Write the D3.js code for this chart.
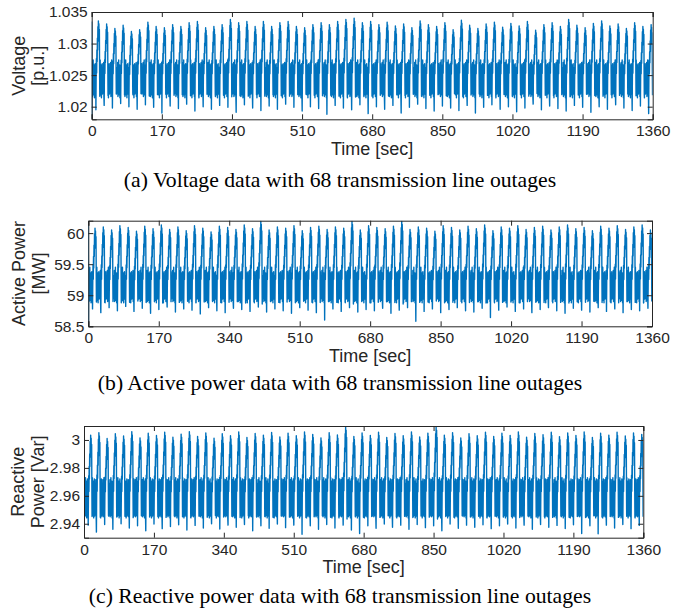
<!DOCTYPE html>
<html>
<head>
<meta charset="utf-8">
<script src="https://cdn.jsdelivr.net/npm/d3@7"></script>
<style>
  body { margin: 0; background: #fff; }
  svg { display: block; }
</style>
</head>
<body>
<div id="app"></div>
<script>
// 68 outages, one every 20 s
const cycleLen = 20;
const xTicks = [0, 170, 340, 510, 680, 850, 1020, 1190, 1360];

// voltage [p.u.]
const voltPeaks = [
  1.0336, 1.0331, 1.0324, 1.0329, 1.0319, 1.0322, 1.0334, 1.0327, 1.0325, 1.0330,
  1.0327, 1.0333, 1.0335, 1.0325, 1.0327, 1.0330, 1.0338, 1.0333, 1.0335, 1.0327,
  1.0335, 1.0327, 1.0333, 1.0335, 1.0327, 1.0325, 1.0330, 1.0333, 1.0330, 1.0335,
  1.0338, 1.0340, 1.0333, 1.0335, 1.0330, 1.0334, 1.0328, 1.0331, 1.0325, 1.0336,
  1.0330, 1.0327, 1.0333, 1.0322, 1.0337, 1.0329, 1.0324, 1.0331, 1.0334, 1.0326,
  1.0332, 1.0328, 1.0335, 1.0321, 1.0330, 1.0333, 1.0327, 1.0338, 1.0329, 1.0325,
  1.0332, 1.0336, 1.0328, 1.0331, 1.0324, 1.0333, 1.0327, 1.0330
];
const voltTroughs = [
  1.0195, 1.0202, 1.0198, 1.0205, 1.0200, 1.0196, 1.0203, 1.0199, 1.0190, 1.0201,
  1.0197, 1.0204, 1.0193, 1.0200, 1.0196, 1.0202, 1.0199, 1.0191, 1.0203, 1.0198,
  1.0194, 1.0201, 1.0196, 1.0204, 1.0199, 1.0193, 1.0200, 1.0197, 1.0188, 1.0202,
  1.0198, 1.0195, 1.0203, 1.0189, 1.0200, 1.0196, 1.0202, 1.0190, 1.0199, 1.0204,
  1.0197, 1.0193, 1.0201, 1.0198, 1.0194, 1.0202, 1.0190, 1.0199, 1.0203, 1.0196,
  1.0200, 1.0192, 1.0198, 1.0204, 1.0195, 1.0201, 1.0197, 1.0193, 1.0202, 1.0199,
  1.0191, 1.0200, 1.0196, 1.0203, 1.0198, 1.0194, 1.0201, 1.0189
];
const voltBand = [1.0262, 1.0222, 1.0270, 1.0216, 1.0258, 1.0228, 1.0274, 1.0219,
  1.0255, 1.0225, 1.0266, 1.0214, 1.0252, 1.0231, 1.0268, 1.0220, 1.0260, 1.0226];
const voltStart = [[0, 1.0335], [0.3, 1.0182], [0.8, 1.0262]];

// active power [MW]
const activePeaks = [
  60.08, 60.10, 60.05, 60.12, 60.09, 60.03, 60.11, 60.07, 60.13, 60.06,
  60.10, 60.04, 60.12, 60.08, 60.02, 60.11, 60.09, 60.06, 60.13, 60.07,
  60.19, 60.05, 60.10, 60.08, 60.12, 60.04, 60.09, 60.11, 60.06, 60.10,
  60.08, 60.19, 60.05, 60.12, 60.09, 60.07, 60.11, 60.19, 60.06, 60.10,
  60.08, 60.03, 60.12, 60.09, 60.05, 60.11, 60.07, 60.13, 60.04, 60.10,
  60.08, 60.12, 60.06, 60.09, 60.11, 60.05, 60.10, 60.13, 60.07, 60.09,
  60.04, 60.11, 60.08, 60.12, 60.06, 60.10, 60.13, 60.05
];
const activeTroughs = [
  58.78, 58.72, 58.80, 58.75, 58.82, 58.74, 58.79, 58.71, 58.77, 58.81,
  58.73, 58.78, 58.76, 58.70, 58.80, 58.75, 58.72, 58.79, 58.77, 58.74,
  58.81, 58.73, 58.78, 58.75, 58.71, 58.80, 58.76, 58.72, 58.60, 58.78,
  58.74, 58.80, 58.73, 58.77, 58.75, 58.79, 58.71, 58.76, 58.80, 58.58,
  58.74, 58.78, 58.72, 58.77, 58.80, 58.75, 58.73, 58.79, 58.64, 58.76,
  58.81, 58.74, 58.78, 58.72, 58.77, 58.80, 58.75, 58.71, 58.79, 58.76,
  58.73, 58.80, 58.74, 58.78, 58.72, 58.77, 58.75, 58.79
];
const activeBand = [59.32, 58.95, 59.40, 58.90, 59.28, 59.00, 59.45, 58.92,
  59.25, 58.98, 59.36, 58.88, 59.22, 59.04, 59.38, 58.94, 59.30, 59.02];
const activeStart = [[0, 60.20], [0.3, 58.50], [0.8, 59.30]];

// reactive power [Var]
const reactPeaks = [
  3.0035, 3.0052, 3.0010, 3.0045, 3.0028, 3.0060, 3.0015, 3.0048, 3.0032, 3.0055,
  3.0020, 3.0042, 3.0060, 3.0025, 3.0050, 3.0012, 3.0045, 3.0030, 3.0058, 3.0018,
  3.0046, 3.0035, 3.0053, 3.0022, 3.0049, 3.0030, 3.0057, 3.0040, 3.0015, 3.0052,
  3.0036, 3.0095, 3.0025, 3.0050, 3.0033, 3.0055, 3.0018, 3.0046, 3.0030, 3.0058,
  3.0022, 3.0049, 3.0095, 3.0035, 3.0052, 3.0014, 3.0045, 3.0030, 3.0056, 3.0025,
  3.0048, 3.0033, 3.0058, 3.0020, 3.0046, 3.0038, 3.0055, 3.0024, 3.0050, 3.0032,
  3.0057, 3.0018, 3.0048, 3.0035, 3.0055, 3.0028, 3.0050, 3.0040
];
const reactTroughs = [
  2.9390, 2.9340, 2.9395, 2.9360, 2.9400, 2.9370, 2.9385, 2.9350, 2.9398, 2.9365,
  2.9380, 2.9392, 2.9355, 2.9388, 2.9370, 2.9400, 2.9362, 2.9390, 2.9375, 2.9395,
  2.9350, 2.9385, 2.9368, 2.9398, 2.9372, 2.9390, 2.9325, 2.9385, 2.9360, 2.9395,
  2.9370, 2.9390, 2.9355, 2.9330, 2.9385, 2.9368, 2.9398, 2.9375, 2.9390, 2.9360,
  2.9395, 2.9372, 2.9385, 2.9350, 2.9398, 2.9368, 2.9390, 2.9375, 2.9392, 2.9365,
  2.9385, 2.9398, 2.9370, 2.9390, 2.9360, 2.9395, 2.9375, 2.9388, 2.9366, 2.9392,
  2.9330, 2.9385, 2.9328, 2.9390, 2.9370, 2.9395, 2.9365, 2.9388
];
const reactBand = [2.9690, 2.9465, 2.9715, 2.9450, 2.9670, 2.9495, 2.9730, 2.9458,
  2.9660, 2.9485, 2.9705, 2.9442, 2.9650, 2.9510, 2.9720, 2.9455, 2.9680, 2.9490];
const reactStart = [[0, 3.0100], [0.3, 2.9300], [0.8, 2.9650]];

// shape of one outage inside its 20 s window
const bandTimes = [0, 0.6, 1.2, 1.8, 2.4, 3.0, 3.6, 4.2, 4.8, 5.4, 6.0, 6.6,
  7.2, 7.8, 8.4, 9.0, 9.6];
const troughTime = 10.2;
const spikeTimes = [10.8, 11.4, 12.0, 12.6, 13.2, 13.8, 14.4, 15.0, 15.6, 16.2,
  16.8, 17.4, 18.0, 18.6, 19.2, 19.6];
const spikeFrac  = [0.05, 0.35, 0.1, 0.5, 0.3, 0.7, 0.5, 0.9, 0.65, 1.0,
  0.75, 0.95, 0.65, 0.85, 0.1, -0.3];

const panels = [
  {
    top: 12, bottom: 119.3, left: 91.7, right: 652.7,
    domain: [1.018, 1.035],
    yTicks: [1.02, 1.025, 1.03, 1.035],
    yLabels: ["1.02", "1.025", "1.03", "1.035"],
    label: ["Voltage", "[p.u.]"], labelX: [25, 44],
    peaks: voltPeaks, troughs: voltTroughs, band: voltBand, start: voltStart,
    timeY: 155, caption: "(a) Voltage data with 68 transmission line outages", capY: 187
  },
  {
    top: 220.7, bottom: 326.3, left: 88.3, right: 652,
    domain: [58.5, 60.2],
    yTicks: [58.5, 59, 59.5, 60],
    yLabels: ["58.5", "59", "59.5", "60"],
    label: ["Active Power", "[MW]"], labelX: [25, 45],
    peaks: activePeaks, troughs: activeTroughs, band: activeBand, start: activeStart,
    timeY: 362, caption: "(b) Active power data with 68 transmission line outages", capY: 390
  },
  {
    top: 426, bottom: 537.7, left: 84, right: 643.3,
    domain: [2.93, 3.01],
    yTicks: [2.94, 2.96, 2.98, 3],
    yLabels: ["2.94", "2.96", "2.98", "3"],
    label: ["Reactive", "Power [Var]"], labelX: [24, 44],
    peaks: reactPeaks, troughs: reactTroughs, band: reactBand, start: reactStart,
    timeY: 573, caption: "(c) Reactive power data with 68 transmission line outages", capY: 603
  }
];

const W = 673, H = 614;
const axisColor = "#262626", lineColor = "#0072BD";
const sans = "'Liberation Sans', Arial, Helvetica, sans-serif";
const serif = "'Liberation Serif', 'Times New Roman', serif";

const svg = d3.select("#app").append("svg")
  .attr("width", W).attr("height", H);

function buildSeries(p) {
  const pts = p.start.map(d => [d[0], d[1]]);
  const mid = (d3.min(p.band) + d3.max(p.band)) / 2;
  p.peaks.forEach((peak, k) => {
    const t0 = k * cycleLen;
    bandTimes.forEach((bt, j) => {
      if (k === 0 && bt < 1) return;
      pts.push([t0 + bt, p.band[(j + k * 5) % p.band.length]]);
    });
    pts.push([t0 + troughTime, p.troughs[k]]);
    spikeTimes.forEach((st, j) => {
      pts.push([t0 + st, mid + spikeFrac[j] * (peak - mid)]);
    });
  });
  return pts;
}

panels.forEach(p => {
  const x = d3.scaleLinear().domain([0, 1360]).range([p.left, p.right]);
  const y = d3.scaleLinear().domain(p.domain).range([p.bottom, p.top]);
  const g = svg.append("g");

  g.append("clipPath").attr("id", "clip" + p.top)
    .append("rect")
    .attr("x", p.left).attr("y", p.top)
    .attr("width", p.right - p.left).attr("height", p.bottom - p.top);

  const line = d3.line().x(d => x(d[0])).y(d => y(d[1]));
  g.append("path")
    .datum(buildSeries(p))
    .attr("clip-path", `url(#clip${p.top})`)
    .attr("fill", "none")
    .attr("stroke", lineColor)
    .attr("stroke-width", 1.4)
    .attr("stroke-linejoin", "round")
    .attr("d", line);

  // inward ticks, MATLAB box style
  const tl = 5;
  g.append("g").attr("transform", `translate(0,${p.bottom})`)
    .call(d3.axisBottom(x).tickValues(xTicks).tickSize(-tl).tickPadding(6).tickFormat(d3.format("d")));
  g.append("g").attr("transform", `translate(0,${p.top})`)
    .call(d3.axisTop(x).tickValues(xTicks).tickSize(-tl).tickFormat(""));
  g.append("g").attr("transform", `translate(${p.left},0)`)
    .call(d3.axisLeft(y).tickValues(p.yTicks).tickSize(-tl).tickPadding(4)
      .tickFormat((d, i) => p.yLabels[i]));
  g.append("g").attr("transform", `translate(${p.right},0)`)
    .call(d3.axisRight(y).tickValues(p.yTicks).tickSize(-tl).tickFormat(""));

  g.selectAll(".domain").attr("stroke", axisColor).attr("stroke-width", 1);
  g.selectAll(".tick line").attr("stroke", axisColor).attr("stroke-width", 1);
  g.selectAll(".tick text")
    .attr("fill", axisColor)
    .style("font-family", sans)
    .style("font-size", "15.5px");

  // y label, two rotated lines
  p.label.forEach((txt, i) => {
    g.append("text")
      .attr("transform", `translate(${p.labelX[i]},${(p.top + p.bottom) / 2}) rotate(-90)`)
      .attr("text-anchor", "middle")
      .attr("fill", axisColor)
      .style("font-family", sans)
      .style("font-size", "18px")
      .text(txt);
  });

  g.append("text")
    .attr("x", (p.left + p.right) / 2)
    .attr("y", p.timeY)
    .attr("text-anchor", "middle")
    .attr("fill", axisColor)
    .style("font-family", sans)
    .style("font-size", "18px")
    .text("Time [sec]");

  g.append("text")
    .attr("x", 340)
    .attr("y", p.capY)
    .attr("text-anchor", "middle")
    .attr("fill", "#000")
    .style("font-family", serif)
    .style("font-size", "21.7px")
    .text(p.caption);
});
</script>
</body>
</html>
